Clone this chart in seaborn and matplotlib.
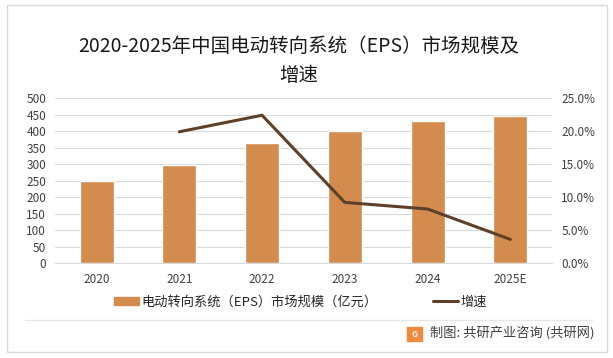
import numpy as np
import pandas as pd
import seaborn as sns
import matplotlib.pyplot as plt
from matplotlib.patches import Rectangle
from matplotlib.lines import Line2D
from matplotlib.ticker import PercentFormatter

# ------------------ Data ------------------
years = ['2020', '2021', '2022', '2023', '2024', '2025E']
market_size = [249, 298, 364, 401, 431, 447]          # 亿元
growth_years = ['2021', '2022', '2023', '2024', '2025E']
growth_rate = [19.9, 22.4, 9.2, 8.2, 3.6]              # %

bar_color = '#D38B4E'
line_color = '#5E4028'

df_bar = pd.DataFrame({'year': years, 'size': market_size})
df_line = pd.DataFrame({'pos': [years.index(y) for y in growth_years],
                        'rate': growth_rate})

# ------------------ Figure ------------------
sns.set_style('white')
plt.rcParams['font.family'] = ['Noto Sans CJK SC', 'DejaVu Sans']

fig = plt.figure(figsize=(6.13, 3.58), dpi=100)
ax = fig.add_axes([0.09, 0.265, 0.81, 0.461])

sns.barplot(data=df_bar, x='year', y='size', color=bar_color,
            width=0.41, saturation=1, ax=ax, zorder=2)
ax.set(ylim=(0, 500), xlim=(-0.5, 5.5), xlabel='', ylabel='')
ax.set_yticks(np.arange(0, 501, 50))
ax.yaxis.grid(True, color='#D9D9D9', linewidth=0.8, zorder=0)
ax.set_axisbelow(True)
for s in ['top', 'right', 'left']:
    ax.spines[s].set_visible(False)
ax.spines['bottom'].set_color('#D9D9D9')
ax.tick_params(axis='both', length=0, labelsize=8.5, colors='#404040')
ax.tick_params(axis='y', pad=6.5)
ax.tick_params(axis='x', pad=7)

ax2 = ax.twinx()
sns.lineplot(data=df_line, x='pos', y='rate', color=line_color,
             linewidth=2.2, ax=ax2, zorder=3)
ax2.set(ylim=(0, 25), xlim=(-0.5, 5.5), xlabel='', ylabel='')
ax2.set_yticks(np.arange(0, 26, 5))
ax2.yaxis.set_major_formatter(PercentFormatter(decimals=1))
for s in ['top', 'right', 'left', 'bottom']:
    ax2.spines[s].set_visible(False)
ax2.tick_params(axis='y', length=0, labelsize=8.5, colors='#404040', pad=7)

# ------------------ Title ------------------
fig.text(0.487, 0.871, '2020-2025年中国电动转向系统（EPS）市场规模及',
         ha='center', va='center', fontsize=14, color='#1a1a1a')
fig.text(0.487, 0.788, '增速', ha='center', va='center', fontsize=14,
         color='#1a1a1a')

# ------------------ Legend ------------------
handles = [Rectangle((0, 0), 1, 1, color=bar_color),
           Line2D([0], [0], color=line_color, linewidth=2.2)]
labels = ['电动转向系统（EPS）市场规模（亿元）', '增速']
fig.legend(handles, labels, loc='center left', bbox_to_anchor=(0.166, 0.156),
           ncol=2, frameon=False, fontsize=9.5, handlelength=1.9,
           handleheight=0.55, handletextpad=0.2, columnspacing=4.2)

# ------------------ Footer ------------------
fig.add_artist(Line2D([0.04, 0.965], [0.106, 0.106], color='#E6E6E6',
                      linewidth=1, transform=fig.transFigure))
fig.add_artist(Rectangle((0.664, 0.048), 0.024, 0.038, color='#F08A3C',
                         transform=fig.transFigure))
fig.text(0.676, 0.067, 'G', ha='center', va='center', fontsize=6,
         color='white', fontweight='bold')
fig.text(0.701, 0.067, '制图: 共研产业咨询 (共研网)', ha='left', va='center',
         fontsize=9.5, color='#404040')

# outer border
fig.add_artist(Rectangle((0.012, 0.017), 0.978, 0.97, fill=False,
                         edgecolor='#D9D9D9', linewidth=1,
                         transform=fig.transFigure))

plt.savefig('out.png', dpi=100)
